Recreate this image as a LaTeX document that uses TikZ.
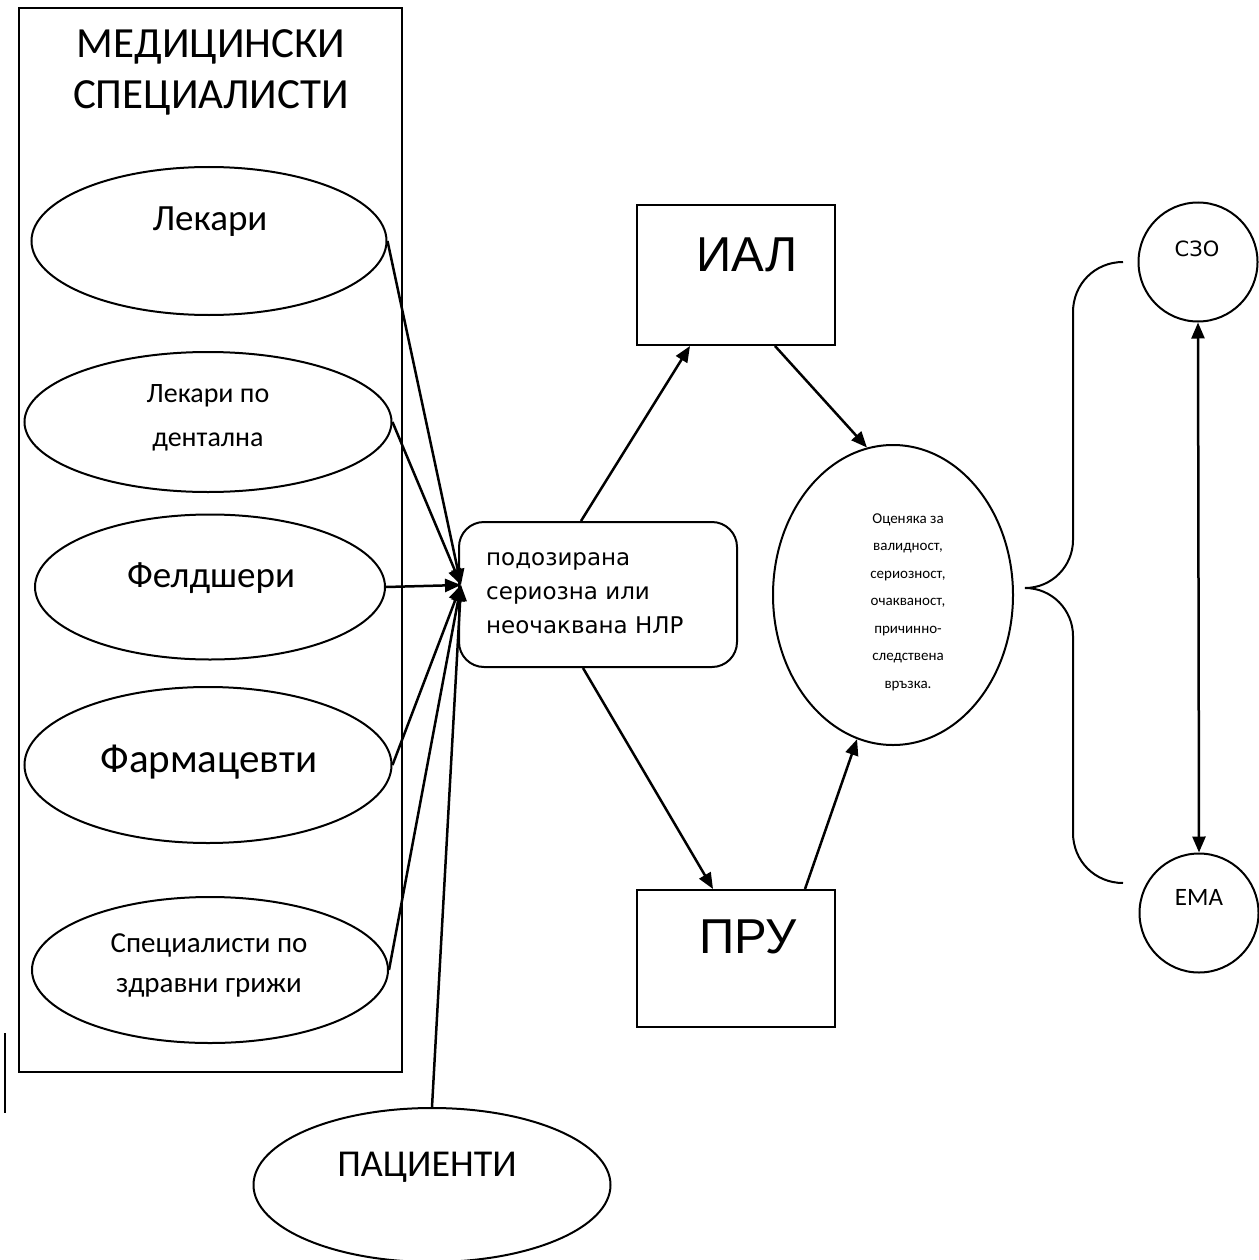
\documentclass[tikz,border=0pt]{standalone}
\usepackage{fontspec}
\setmainfont{Carlito}
\newfontfamily\dejavu{DejaVu Sans}
\newfontfamily\arialf{Liberation Sans}
\usetikzlibrary{arrows.meta,shapes.geometric,calc}

\tikzset{
  oval/.style={draw,ellipse,line width=2pt,inner sep=0pt},
  frame/.style={draw,rectangle,line width=2pt,inner sep=0pt},
  conn/.style={line width=2.5pt,-{Triangle[length=16pt,width=13pt]}},
  txt/.style={inner sep=0pt,align=center},
}

\begin{document}
\begin{tikzpicture}[x=1pt,y=1pt,yscale=-1,xscale=1]
\useasboundingbox (0,0) rectangle (1258,1260);

%Shape: outer frame
\draw [line width=1.8pt] (19,8) rectangle (402,1072);
%Straight Lines: short mark
\draw [line width=2pt] (5,1033) -- (5,1113);

% Ellipses on the left
\node [oval,minimum width=355,minimum height=148] (lek) at (209,241) {};
\node [oval,minimum width=367,minimum height=140] (dent) at (208,422) {};
\node [oval,minimum width=350,minimum height=145] (feld) at (210,587) {};
\node [oval,minimum width=367,minimum height=156] (farm) at (208,765) {};
\node [oval,minimum width=356,minimum height=146] (spec) at (210,970) {};
\node [oval,minimum width=357,minimum height=154] (pac) at (432,1185) {};

% Middle and right shapes
\node [frame,rounded corners=25,minimum width=278,minimum height=145] (nlr) at (598,594.5) {};
\node [frame,minimum width=198,minimum height=140] (ial) at (736,275) {};
\node [frame,minimum width=198,minimum height=137] (pru) at (736,958.5) {};
\node [oval,minimum width=240,minimum height=300] (ocen) at (893,595) {};
\node [draw,circle,line width=2pt,minimum size=119,inner sep=0pt] (szo) at (1198,262) {};
\node [draw,circle,line width=2pt,minimum size=119,inner sep=0pt] (ema) at (1199,913) {};

\coordinate (hub) at (461,585);

% Text Node
\node [txt,font=\fontsize{43}{51}\selectfont] at (211,72) {МЕДИЦИНСКИ\\СПЕЦИАЛИСТИ};
\node [txt,font=\fontsize{37}{42}\selectfont] at (210,222) {Лекари};
\node [txt,font=\fontsize{28}{44}\selectfont] at (208,418) {Лекари по\\дентална};
\node [txt,font=\fontsize{37}{42}\selectfont] at (211,578) {Фелдшери};
\node [txt,font=\fontsize{41}{46}\selectfont] at (209,762) {Фармацевти};
\node [txt,font=\fontsize{29}{40}\selectfont] at (209,965) {Специалисти по\\здравни грижи};
\node [txt,font=\fontsize{38}{44}\selectfont] at (427,1167) {ПАЦИЕНТИ};
\node [txt,align=left,anchor=west,font=\dejavu\fontsize{23}{34}\selectfont] at (486,593) {подозирана\\сериозна или\\неочаквана НЛР};
\node [txt,font=\arialf\fontsize{49}{55}\selectfont] at (747,255) {ИАЛ};
\node [txt,font=\arialf\fontsize{49}{55}\selectfont] at (748,937) {ПРУ};
\node [txt,font=\fontsize{15}{27.5}\selectfont] at (908,602) {Оценяка за\\валидност,\\сериозност,\\очакваност,\\причинно-\\следствена\\връзка.};
\node [txt,font=\dejavu\fontsize{21}{25}\selectfont] at (1197,249) {СЗО};
\node [txt,font=\fontsize{25}{30}\selectfont] at (1199,897) {ЕМА};

% Connectors
\draw [conn] (lek.east) -- (hub);
\draw [conn] (dent.east) -- (hub);
\draw [conn] (feld.east) -- (hub);
\draw [conn] (farm.east) -- (hub);
\draw [conn] (spec.east) -- (hub);
\draw [conn] (pac.north) -- (hub);

\draw [conn] ($(nlr.north)+(-17,0)$) -- ($(ial.south)+(-46,0)$);
\draw [conn] ($(nlr.south)+(-15,0)$) -- ($(pru.north)+(-23,0)$);
\draw [conn] ($(ial.south)+(39,0)$) -- (ocen.100);
\draw [conn] ($(pru.north)+(69,0)$) -- (ocen.256);
\draw [line width=2.5pt,{Triangle[length=16pt,width=13pt]}-{Triangle[length=16pt,width=13pt]}] (szo.south) -- (ema.north);

%Shape: brace
\draw [line width=2pt] (1123,262) .. controls (1095,262) and (1073,284) .. (1073,312) -- (1073,540) .. controls (1073,566) and (1052,588) .. (1025,588) .. controls (1052,588) and (1073,610) .. (1073,636) -- (1073,833) .. controls (1073,861) and (1095,883) .. (1123,883);

\end{tikzpicture}
\end{document}
